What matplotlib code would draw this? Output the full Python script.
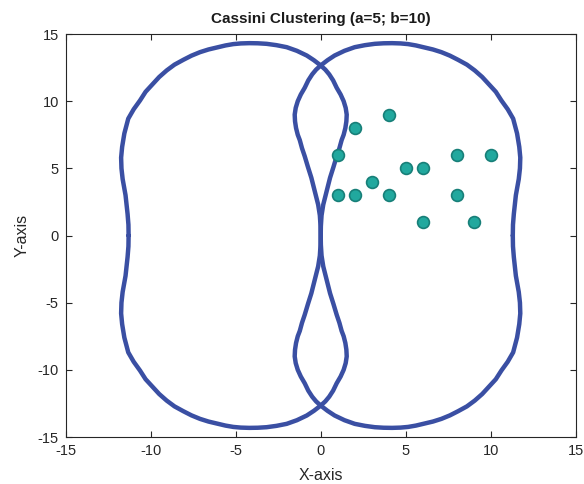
import numpy as np
import matplotlib.pyplot as plt

plt.rcParams['font.family'] = ['Liberation Sans', 'DejaVu Sans']
plt.rcParams['axes.unicode_minus'] = False

# upper half of the left oval
# (the picture is symmetric, so the lower half and the right oval are its reflections)
half_x = [-11.30, -11.31, -11.36, -11.48, -11.65, -11.72, -11.74, -11.68, -11.55, -11.32, -11.00,
          -10.63, -10.30, -9.90, -9.50, -9.06, -8.60, -8.08, -7.60, -7.10, -6.60,
          -6.10, -5.60, -5.14, -4.70, -4.20, -3.70, -3.18, -2.60, -2.00, -1.40,
          -0.82, -0.40, 0.00, 0.27, 0.50, 0.73, 0.94, 1.17, 1.35, 1.47,
          1.53, 1.51, 1.45, 1.35, 1.23, 1.10, 0.94, 0.75, 0.55, 0.35,
          0.15, 0.05, 0.01, 0.00]
half_y = [0.0, 0.8, 1.6, 3.0, 4.2, 5.0, 5.8, 6.6, 7.6, 8.7, 9.4,
          10.05, 10.7, 11.25, 11.8, 12.29, 12.72, 13.08, 13.39, 13.65, 13.85,
          14.0, 14.15, 14.25, 14.3, 14.32, 14.31, 14.27, 14.17, 14.02, 13.75,
          13.4, 13.05, 12.66, 12.35, 12.0, 11.55, 11.0, 10.5, 10.0, 9.5,
          9.0, 8.5, 8.0, 7.5, 7.1, 6.5, 5.9, 5.1, 4.3, 3.3,
          2.3, 1.5, 0.7, 0.0]

# cluster points
pts_x = [1, 2, 4, 5, 6, 8, 10, 1, 2, 3, 4, 8, 6, 9]
pts_y = [6, 8, 9, 5, 5, 6, 6, 3, 3, 4, 3, 3, 1, 1]

ticks = [-15, -10, -5, 0, 5, 10, 15]


def main():
    hx = np.array(half_x)
    hy = np.array(half_y)
    left_x = np.concatenate([hx, hx[::-1][1:]])
    left_y = np.concatenate([hy, -hy[::-1][1:]])
    right_x = -left_x
    right_y = left_y

    fig = plt.figure(figsize=(5.84, 4.84), dpi=100)
    ax = fig.add_axes([0.1125, 0.0971, 0.8733, 0.8326])

    line_col = '#3a4fa3'
    for ox, oy in [(left_x, left_y), (right_x, right_y)]:
        ax.plot(ox, oy, color=line_col, linewidth=3.2, solid_joinstyle='round',
                solid_capstyle='round', zorder=2)

    ax.plot(pts_x, pts_y, linestyle='none', marker='o', markersize=8.5,
            markerfacecolor='#21a89e', markeredgecolor='#177f78', markeredgewidth=1.2, zorder=3)

    ax.set_xlim(-15, 15)
    ax.set_ylim(-15, 15)
    ax.set_xticks(ticks)
    ax.set_yticks(ticks)

    grey = '#262626'
    for sp in ax.spines.values():
        sp.set_color(grey)
        sp.set_linewidth(0.8)
    ax.tick_params(direction='in', length=4, width=0.8, colors=grey, labelsize=10.5,
                   top=True, right=True, pad=5)

    ax.set_title('Cassini Clustering (a=5; b=10)', fontsize=11, fontweight='bold',
                 color='#1a1a1a', pad=8)
    ax.set_xlabel('X-axis', fontsize=11.5, color=grey, labelpad=7)
    ax.set_ylabel('Y-axis', fontsize=11.5, color=grey, labelpad=6)

    fig.savefig('out.png', dpi=100)
    plt.close(fig)


if __name__ == "__main__":
    main()
